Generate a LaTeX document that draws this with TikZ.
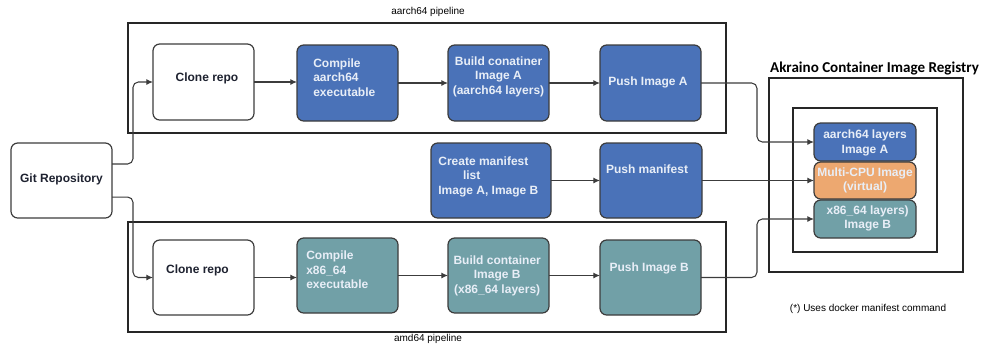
\documentclass[tikz,border=0pt]{standalone}
\usepackage{fontspec}
\setmainfont{Liberation Sans}
\newfontfamily\calib{Carlito}
\usetikzlibrary{fit,arrows.meta}
\definecolor{cblue}{HTML}{4A72B8}
\definecolor{cteal}{HTML}{71A0A7}
\definecolor{corange}{HTML}{EDA870}
\definecolor{cedge}{HTML}{3C3C3C}
\definecolor{ctxt}{HTML}{E8EEF7}
\definecolor{cdark}{HTML}{1E2230}
\begin{document}
\begin{tikzpicture}[x=0.75pt,y=-0.75pt,
 base/.style={draw=cedge, line width=0.9pt, rounded corners=5pt, inner sep=0pt, outer sep=0pt},
 whitebox/.style={base, fill=white},
 bluebox/.style={base, fill=cblue},
 tealbox/.style={base, fill=cteal},
 orangebox/.style={base, fill=corange},
 lt/.style={font=\fontsize{9}{10.9}\selectfont\bfseries, text=ctxt, align=center, inner sep=0pt},
 ltl/.style={lt, align=left},
 dk/.style={font=\fontsize{9}{10.9}\selectfont\bfseries, text=cdark, inner sep=0pt},
 frame/.style={draw=black!85, line width=1.3pt, inner sep=0pt, outer sep=0pt},
 conn/.style={draw=cedge, line width=0.8pt, rounded corners=4pt, -{Latex[length=5pt,width=4.5pt]}},
 small/.style={font=\fontsize{7.5}{9}\selectfont, text=black, inner sep=0pt}
]
\useasboundingbox (0,0) rectangle (998,344);

% frames
\node[frame, fit={(128,23)(726,133)}] (topframe) {};
\node[frame, fit={(128,222)(726,332)}] (botframe) {};
\node[frame, fit={(769,78)(963,272)}] (regouter) {};
\node[frame, fit={(793,108)(937,252)}] (reginner) {};

% labels
\node[small] (lblA) at (428,12) {aarch64 pipeline};
\node[small] (lblB) at (428,339) {amd64 pipeline};
\node[font=\calib\fontsize{11.3}{13}\selectfont\bfseries, inner sep=0pt] (regtitle) at (874.5,68) {Akraino Container Image Registry};
\node[small] (note) at (868,309) {(*) Uses docker manifest command};

% git
\node[whitebox, fit={(11,143)(112,218)}, label={[dk, yshift=1.1pt]center:Git Repository}] (git) {};

% top row
\node[whitebox, fit={(153,44)(254,120)}, label={[dk, xshift=2.6pt, yshift=3pt]center:Clone repo}] (cloneA) {};
\node[bluebox, fit={(297,45)(398,121)}, label={[ltl, anchor=west, xshift=12pt, yshift=4.1pt]west:{Compile\\aarch64\\executable}}] (compA) {};
\node[bluebox, fit={(448,45)(549,121)}, label={[lt, yshift=4.9pt]center:{Build conatiner\\Image A\\(aarch64 layers)}}] (buildA) {};
\node[bluebox, fit={(600,45)(701,121)}, label={[lt, xshift=-1.9pt, yshift=0.75pt]center:Push Image A}] (pushA) {};

% middle row
\node[bluebox, fit={(431,143)(551,218)}, label={[ltl, anchor=west, xshift=5.3pt, yshift=3pt]west:{Create manifest\\\hspace*{18.5pt}list\\Image A, Image B}}] (create) {};
\node[bluebox, fit={(600,143)(702,218)}, label={[lt, xshift=-3pt, yshift=8.6pt]center:Push manifest}] (pushM) {};

% bottom row
\node[whitebox, fit={(153,240)(254,315)}, label={[dk, xshift=-4.5pt, yshift=5.6pt]center:Clone repo}] (cloneB) {};
\node[tealbox, fit={(297,238)(398,313)}, label={[ltl, anchor=west, xshift=6.75pt, yshift=4.1pt]west:{Compile\\x86\_64\\executable}}] (compB) {};
\node[tealbox, fit={(448,238)(549,313)}, label={[lt, xshift=-1pt]center:{Build container\\Image B\\(x86\_64 layers)}}] (buildB) {};
\node[tealbox, fit={(600,240)(701,315)}, label={[lt, xshift=-1pt, yshift=7.1pt]center:Push Image B}] (pushB) {};

% registry items
\node[bluebox, fit={(814,123)(916,161)}, label={[lt, yshift=-0.5pt]center:{aarch64 layers\\Image A}}] (regA) {};
\node[orangebox, fit={(814,162)(916,199)}, label={[lt]center:{Multi-CPU Image\\(virtual)}}] (regM) {};
\node[tealbox, fit={(814,200)(916,238)}, label={[lt, xshift=2pt, yshift=0.4pt]center:{x86\_64 layers)\\Image B}}] (regB) {};

% connectors
\draw[conn] ([yshift=12.4pt]git.east) -- ++(21,0) |- (cloneA.west);
\draw[conn] ([yshift=-12.4pt]git.east) -- ++(21,0) |- (cloneB.west);
\draw[conn] (cloneA.east) -- (cloneA.east -| compA.west);
\draw[conn] (compA.east) -- (compA.east -| buildA.west);
\draw[conn] (buildA.east) -- (buildA.east -| pushA.west);
\draw[conn] (cloneB.east) -- (cloneB.east -| compB.west);
\draw[conn] (compB.east) -- (compB.east -| buildB.west);
\draw[conn] (buildB.east) -- (buildB.east -| pushB.west);
\draw[conn] (create.east) -- (create.east -| pushM.west);
\draw[conn] (pushA.east) -- ++(56,0) |- (regA.west);
\draw[conn] (pushM.east) -- (pushM.east -| regM.west);
\draw[conn] (pushB.east) -- ++(56,0) |- (regB.west);
\end{tikzpicture}
\end{document}
